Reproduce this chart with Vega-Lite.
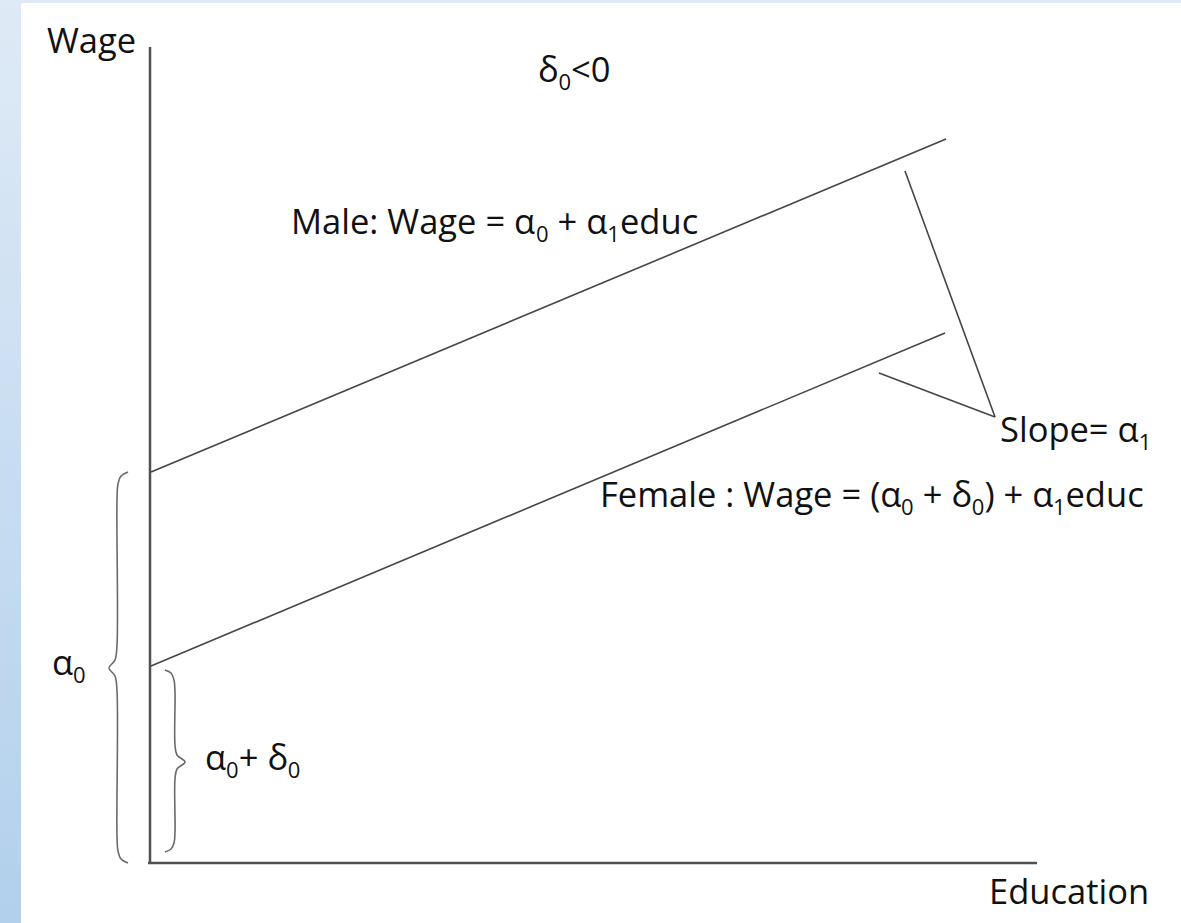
{
  "$schema": "https://vega.github.io/schema/vega-lite/v6.json",
  "width": 1181,
  "height": 923,
  "autosize": {"type": "fit", "contains": "padding"},
  "padding": 0,
  "background": "#ffffff",
  "config": {"view": {"stroke": null}},
  "datasets": {
    "axes": [
      {"name": "wage axis", "educ": -0.01, "educ2": -0.01, "wage": 0, "wage2": 8.16},
      {"name": "education axis", "educ": -0.03, "educ2": 8.86, "wage": 0, "wage2": 0}
    ],
    "lines": [
      {"series": "male", "ord": 0, "educ": 0, "wage": 3.91},
      {"series": "male", "ord": 1, "educ": 7.95, "wage": 7.24},
      {"series": "female", "ord": 0, "educ": 0, "wage": 1.97},
      {"series": "female", "ord": 1, "educ": 7.94, "wage": 5.30},
      {"series": "pointer male", "ord": 0, "educ": 7.54, "wage": 6.92},
      {"series": "pointer male", "ord": 1, "educ": 8.44, "wage": 4.46},
      {"series": "pointer female", "ord": 0, "educ": 7.28, "wage": 4.90},
      {"series": "pointer female", "ord": 1, "educ": 8.44, "wage": 4.46}
    ],
    "braces": [
      {"brace": "alpha0", "ord": 0, "educ": -0.23, "wage": 3.91},
      {"brace": "alpha0", "ord": 1, "educ": -0.30, "wage": 3.87},
      {"brace": "alpha0", "ord": 2, "educ": -0.33, "wage": 3.79},
      {"brace": "alpha0", "ord": 3, "educ": -0.34, "wage": 3.63},
      {"brace": "alpha0", "ord": 4, "educ": -0.34, "wage": 2.18},
      {"brace": "alpha0", "ord": 5, "educ": -0.36, "wage": 2.03},
      {"brace": "alpha0", "ord": 6, "educ": -0.42, "wage": 1.95},
      {"brace": "alpha0", "ord": 7, "educ": -0.36, "wage": 1.87},
      {"brace": "alpha0", "ord": 8, "educ": -0.34, "wage": 1.72},
      {"brace": "alpha0", "ord": 9, "educ": -0.34, "wage": 0.28},
      {"brace": "alpha0", "ord": 10, "educ": -0.33, "wage": 0.12},
      {"brace": "alpha0", "ord": 11, "educ": -0.30, "wage": 0.04},
      {"brace": "alpha0", "ord": 12, "educ": -0.23, "wage": 0.00},
      {"brace": "alpha0+delta0", "ord": 0, "educ": 0.14, "wage": 1.93},
      {"brace": "alpha0+delta0", "ord": 1, "educ": 0.20, "wage": 1.90},
      {"brace": "alpha0+delta0", "ord": 2, "educ": 0.23, "wage": 1.83},
      {"brace": "alpha0+delta0", "ord": 3, "educ": 0.24, "wage": 1.71},
      {"brace": "alpha0+delta0", "ord": 4, "educ": 0.24, "wage": 1.18},
      {"brace": "alpha0+delta0", "ord": 5, "educ": 0.26, "wage": 1.08},
      {"brace": "alpha0+delta0", "ord": 6, "educ": 0.34, "wage": 1.01},
      {"brace": "alpha0+delta0", "ord": 7, "educ": 0.26, "wage": 0.94},
      {"brace": "alpha0+delta0", "ord": 8, "educ": 0.24, "wage": 0.84},
      {"brace": "alpha0+delta0", "ord": 9, "educ": 0.24, "wage": 0.31},
      {"brace": "alpha0+delta0", "ord": 10, "educ": 0.23, "wage": 0.20},
      {"brace": "alpha0+delta0", "ord": 11, "educ": 0.20, "wage": 0.14},
      {"brace": "alpha0+delta0", "ord": 12, "educ": 0.14, "wage": 0.11}
    ],
    "labels": [
      {"text": "Wage", "educ": -1.04, "wage": 8.10},
      {"text": "δ", "educ": 3.87, "wage": 7.81},
      {"text": "<0", "educ": 4.20, "wage": 7.81},
      {"text": "Male: Wage = α", "educ": 1.40, "wage": 6.29},
      {"text": "+ α", "educ": 4.065, "wage": 6.29},
      {"text": "educ", "educ": 4.69, "wage": 6.29},
      {"text": "Slope= α", "educ": 8.49, "wage": 4.21},
      {"text": "Female : Wage = (α", "educ": 4.49, "wage": 3.56},
      {"text": "+ δ", "educ": 7.717, "wage": 3.56},
      {"text": ") + α", "educ": 8.334, "wage": 3.56},
      {"text": "educ", "educ": 9.145, "wage": 3.56},
      {"text": "α", "educ": -0.99, "wage": 1.88},
      {"text": "α", "educ": 0.54, "wage": 0.93},
      {"text": "+ δ", "educ": 0.877, "wage": 0.93},
      {"text": "Education", "educ": 8.38, "wage": -0.41}
    ],
    "subscripts": [
      {"text": "0", "educ": 4.074, "wage": 7.73},
      {"text": "0", "educ": 3.85, "wage": 6.21},
      {"text": "1", "educ": 4.563, "wage": 6.21},
      {"text": "1", "educ": 9.877, "wage": 4.13},
      {"text": "0", "educ": 7.501, "wage": 3.48},
      {"text": "0", "educ": 8.208, "wage": 3.48},
      {"text": "1", "educ": 9.019, "wage": 3.48},
      {"text": "0", "educ": -0.779, "wage": 1.80},
      {"text": "0", "educ": 0.751, "wage": 0.85},
      {"text": "0", "educ": 1.368, "wage": 0.85}
    ]
  },
  "encoding": {
    "x": {"type": "quantitative", "scale": {"domain": [-1.51, 10.30], "nice": false, "zero": false}, "axis": null},
    "y": {"type": "quantitative", "scale": {"domain": [-0.60, 8.63], "nice": false, "zero": false}, "axis": null}
  },
  "layer": [
    {
      "data": {"values": [{}]},
      "mark": {
        "type": "rect",
        "fill": {
          "gradient": "linear", "x1": 0, "y1": 0, "x2": 0, "y2": 1,
          "stops": [{"offset": 0, "color": "#dfeaf6"}, {"offset": 1, "color": "#b2d0ec"}]
        }
      },
      "encoding": {
        "x": {"datum": -1.51, "type": "quantitative"},
        "x2": {"datum": 10.30},
        "y": {"datum": 8.63, "type": "quantitative"},
        "y2": {"datum": -0.60}
      }
    },
    {
      "data": {"values": [{}]},
      "mark": {"type": "rect", "fill": "#ffffff"},
      "encoding": {
        "x": {"datum": -1.30, "type": "quantitative"},
        "x2": {"datum": 10.30},
        "y": {"datum": 8.60, "type": "quantitative"},
        "y2": {"datum": -0.60}
      }
    },
    {
      "data": {"name": "axes"},
      "mark": {"type": "rule", "color": "#505050", "strokeWidth": 2.5},
      "encoding": {
        "x": {"field": "educ", "type": "quantitative"},
        "x2": {"field": "educ2"},
        "y": {"field": "wage", "type": "quantitative"},
        "y2": {"field": "wage2"}
      }
    },
    {
      "data": {"name": "braces"},
      "mark": {"type": "line", "interpolate": "catmull-rom", "color": "#6a6a6a", "strokeWidth": 1.6},
      "encoding": {
        "x": {"field": "educ", "type": "quantitative"},
        "y": {"field": "wage", "type": "quantitative"},
        "detail": {"field": "brace"},
        "order": {"field": "ord", "type": "quantitative"}
      }
    },
    {
      "data": {"name": "lines"},
      "mark": {"type": "line", "color": "#454545", "strokeWidth": 1.6},
      "encoding": {
        "x": {"field": "educ", "type": "quantitative"},
        "y": {"field": "wage", "type": "quantitative"},
        "detail": {"field": "series"},
        "order": {"field": "ord", "type": "quantitative"}
      }
    },
    {
      "data": {"name": "labels"},
      "mark": {"type": "text", "align": "left", "baseline": "alphabetic", "font": "Open Sans", "fontSize": 34.5, "color": "#111111"},
      "encoding": {
        "x": {"field": "educ", "type": "quantitative"},
        "y": {"field": "wage", "type": "quantitative"},
        "text": {"field": "text"}
      }
    },
    {
      "data": {"name": "subscripts"},
      "mark": {"type": "text", "align": "left", "baseline": "alphabetic", "font": "Open Sans", "fontSize": 22, "color": "#111111"},
      "encoding": {
        "x": {"field": "educ", "type": "quantitative"},
        "y": {"field": "wage", "type": "quantitative"},
        "text": {"field": "text"}
      }
    }
  ]
}
